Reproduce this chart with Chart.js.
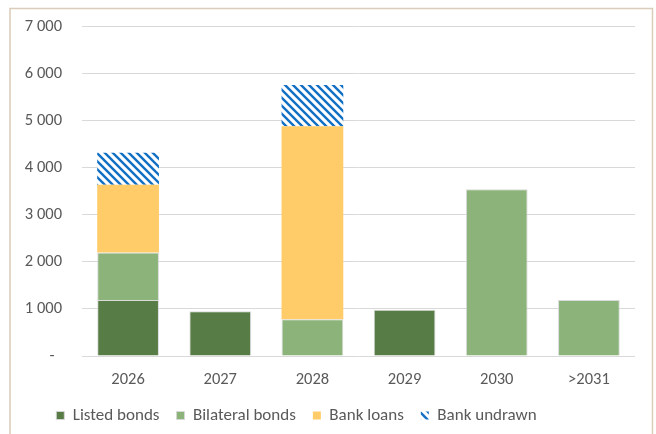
<!DOCTYPE html>
<html>
<head>
<meta charset="utf-8">
<script src="https://cdn.jsdelivr.net/npm/chart.js@4/dist/chart.umd.min.js"></script>
<style>
  html, body { margin: 0; padding: 0; background: #ffffff; }
  #wrap { width: 656px; height: 434px; position: relative; }
</style>
</head>
<body>
<div id="wrap"><canvas id="chart" width="656" height="434"></canvas></div>
<script>
// Maturity profile by year (amounts, stacked)
const years = ['2026', '2027', '2028', '2029', '2030', '>2031'];
const listedBonds = [1190, 950, null, 980, null, null];
const bilateralBonds = [1010, null, 780, null, 3540, 1190];
const bankLoans = [1440, null, 4100, null, null, null];
const bankUndrawn = [680, null, 875, null, null, null];
const yTicks = [0, 1000, 2000, 3000, 4000, 5000, 6000, 7000];

const FONT = 'Carlito, Lato, "Open Sans", sans-serif';
const TEXT = '#595959';

// Diagonal blue hatch for the undrawn facilities
function hatch() {
  const s = 8;
  const c = document.createElement('canvas');
  c.width = s; c.height = s;
  const g = c.getContext('2d');
  g.fillStyle = '#ffffff';
  g.fillRect(0, 0, s, s);
  g.strokeStyle = '#1370C4';
  g.lineWidth = 2.4;
  g.lineCap = 'square';
  g.beginPath();
  g.moveTo(-2, -2); g.lineTo(s + 2, s + 2);
  g.moveTo(-2, s - 2); g.lineTo(2, s + 2);
  g.moveTo(s - 2, -2); g.lineTo(s + 2, 2);
  g.stroke();
  return g.createPattern(c, 'repeat');
}

function fmt(v) {
  if (v === 0) return '-  ';
  return String(v).replace(/\B(?=(\d{3})+(?!\d))/g, ' ');
}

// Thin frame around the whole figure
const framePlugin = {
  id: 'frame',
  beforeDraw(chart) {
    const ctx = chart.ctx;
    ctx.save();
    ctx.fillStyle = '#ffffff';
    ctx.fillRect(0, 0, chart.width, chart.height);
    ctx.strokeStyle = '#D9CCB8';
    ctx.lineWidth = 1.5;
    ctx.strokeRect(10, 8.5, 642.5, 440);
    ctx.restore();
  }
};

// Centre the legend row a little left of the canvas centre
const legendShift = {
  id: 'legendShift',
  afterLayout(chart) {
    const lg = chart.legend;
    if (!lg) return;
    lg.right -= 42;
    lg.width = lg.right - lg.left;
  }
};

const barBorder = 'rgba(215,215,215,0.9)';

new Chart(document.getElementById('chart'), {
  type: 'bar',
  data: {
    labels: years,
    datasets: [
      { label: 'Listed bonds', data: listedBonds, backgroundColor: '#587C46', borderColor: barBorder, borderWidth: 1 },
      { label: 'Bilateral bonds', data: bilateralBonds, backgroundColor: '#8CB37A', borderColor: barBorder, borderWidth: 1 },
      { label: 'Bank loans', data: bankLoans, backgroundColor: '#FFCC69', borderColor: 'rgba(0,0,0,0)', borderWidth: 0 },
      { label: 'Bank undrawn', data: bankUndrawn, backgroundColor: hatch(), borderColor: 'rgba(0,0,0,0)', borderWidth: 0 }
    ]
  },
  options: {
    responsive: false,
    animation: false,
    layout: { padding: { left: 0, right: 21, top: 26.5, bottom: 0 } },
    datasets: { bar: { categoryPercentage: 1, barPercentage: 0.67 } },
    scales: {
      x: {
        stacked: true,
        grid: { display: false, drawTicks: false },
        border: { display: false },
        ticks: { color: TEXT, font: { family: FONT, size: 16.5 }, padding: 14 },
        afterFit(scale) { scale.height = 34; scale.paddingLeft = 0; scale.paddingRight = 0; }
      },
      y: {
        stacked: true,
        min: 0,
        max: 7000,
        afterBuildTicks(scale) { scale.ticks = yTicks.map(v => ({ value: v })); },
        grid: { color: '#D9D9D9', lineWidth: 1, drawTicks: false },
        border: { display: false },
        ticks: { color: TEXT, font: { family: FONT, size: 16.5 }, padding: 20, callback: fmt },
        afterFit(scale) { scale.width = 82; scale.paddingTop = 0; scale.paddingBottom = 0; }
      }
    },
    plugins: {
      legend: {
        position: 'bottom',
        labels: {
          color: TEXT,
          font: { family: FONT, size: 17 },
          boxWidth: 8,
          boxHeight: 8,
          padding: 17
        }
      },
      tooltip: { enabled: false }
    }
  },
  plugins: [framePlugin, legendShift]
});
</script>
</body>
</html>
